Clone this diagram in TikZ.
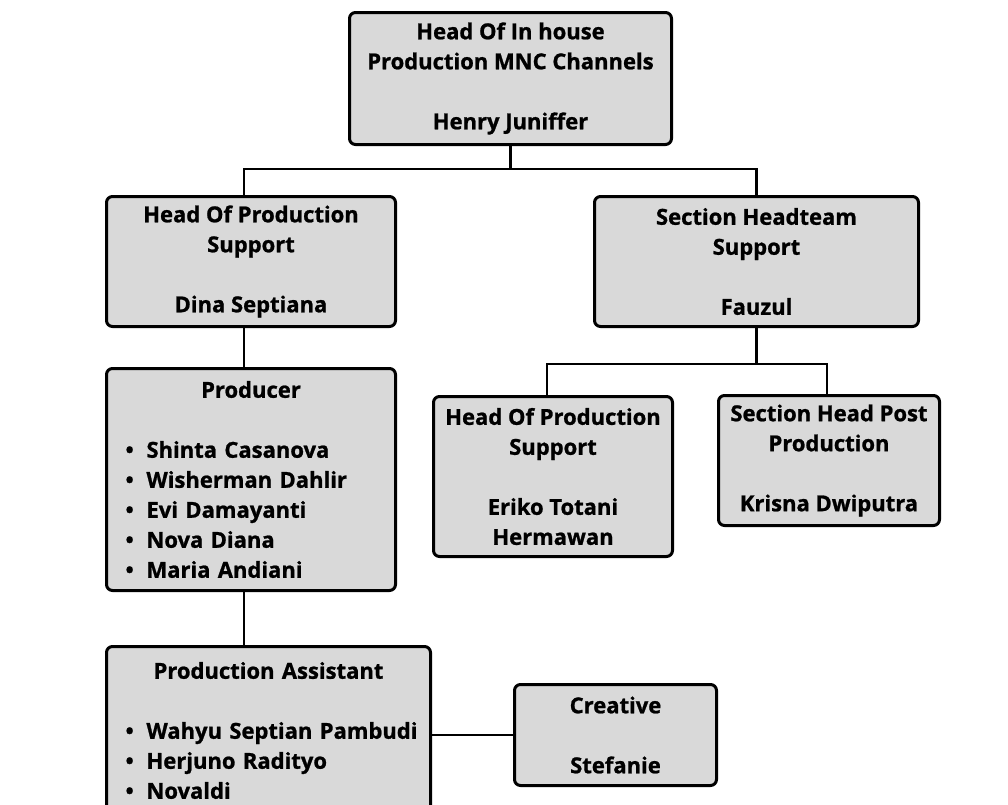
\documentclass[tikz,border=0pt]{standalone}
\usepackage{fontspec}
\setmainfont{Open Sans}[BoldFeatures={FakeBold=1}]
\usetikzlibrary{positioning,calc}

\definecolor{boxgray}{HTML}{D9D9D9}
\newcommand{\pitem}{\makebox[21pt][l]{\textbullet}}

\begin{document}
\begin{tikzpicture}[x=1pt,y=-1pt,
  box/.style={draw,line width=3pt,rounded corners=6pt,fill=boxgray,align=center,
    inner sep=0pt,font=\bfseries\fontsize{22}{30}\selectfont},
  listbox/.style={box,align=left,inner xsep=19pt,text width=#1},
  link/.style={line width=2.5pt}]
\useasboundingbox (0,0) rectangle (1008,804);
% boxes
\node[box,minimum width=322,minimum height=132] (head) at (510.5,78.5)
  {Head Of In house\\Production MNC Channels\\[30pt]Henry Juniffer};
\node[box,minimum width=289,minimum height=130] (hps) at (251,261.5)
  {Head Of Production\\Support\\[30pt]Dina Septiana};
\node[box,minimum width=324,minimum height=130] (shs) at (756.5,261.5)
  {Section Headteam\\Support\\[30pt]Fauzul};
\node[listbox=251pt,minimum height=222] (prod) at (251,479.5)
  {\makebox[\linewidth]{Producer}\\[30pt]
   \pitem Shinta Casanova\\
   \pitem Wisherman Dahlir\\
   \pitem Evi Damayanti\\
   \pitem Nova Diana\\
   \pitem Maria Andiani};
\node[box,minimum width=239,minimum height=160] (eriko) at (553,476.5)
  {Head Of Production\\Support\\[30pt]Eriko Totani\\Hermawan};
\node[box,minimum width=221,minimum height=130] (krisna) at (829,460.5)
  {Section Head Post\\Production\\[30pt]Krisna Dwiputra};
\node[listbox=286pt,minimum height=168] (pa) at (268.5,730.5)
  {\makebox[\linewidth]{Production Assistant}\\[30pt]
   \mbox{\pitem Wahyu Septian Pambudi}\\
   \pitem Herjuno Radityo\\
   \pitem Novaldi};
\node[box,minimum width=202,minimum height=101] (creative) at (615.5,735)
  {Creative\\[30pt]Stefanie};
% lines
\coordinate (bus1) at ($(head.south)+(0,23)$);
\coordinate (bus2) at ($(shs.south)+(0,36)$);
\draw[link] (head.south) -- (bus1);
\draw[link] ([xshift=-7pt]hps.north) |- (bus1) -| (shs.north);
\draw[link] (shs.south) -- (bus2);
\draw[link] ([xshift=-6pt]eriko.north) |- (bus2) -| ([xshift=-2pt]krisna.north);
\draw[link] ([xshift=-7pt]hps.south) -- ([xshift=-7pt]prod.north);
\draw[link] ([xshift=-7pt]prod.south) -- ([xshift=-7pt]prod.south |- pa.north);
\draw[link] (creative.west) -- (creative.west -| pa.east);
\end{tikzpicture}
\end{document}
